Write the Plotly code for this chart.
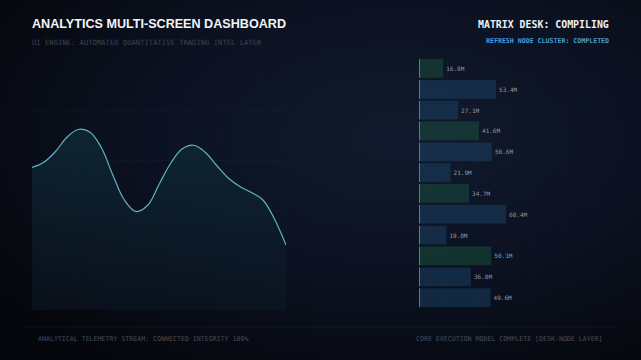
import plotly.graph_objects as go
import base64

W, H = 641, 360

# ---- data ----
trend_x = list(range(23))
trend_y = [57.0, 59.0, 63.2, 69.0, 72.2, 71.2, 65.0, 54.0, 44.0, 39.4, 41.8, 50.2,
           58.6, 64.4, 65.9, 63.1, 57.8, 52.8, 49.4, 47.0, 44.0, 36.4, 26.0]

bar_cats = ["N01", "N02", "N03", "N04", "N05", "N06", "N07", "N08", "N09", "N10", "N11", "N12"]
bar_vals = [16.8, 53.4, 27.1, 41.6, 50.6, 21.9, 34.7, 60.4, 19.0, 50.1, 36.0, 49.6]
bar_labels = ["16.8M", "53.4M", "27.1M", "41.6M", "50.6M", "21.9M", "34.7M", "60.4M", "19.0M", "50.1M", "36.0M", "49.6M"]
bar_kind = ["g", "b", "b", "g", "b", "b", "g", "b", "b", "g", "b", "b"]

def px_x(p):
    return p / W

def px_y(p):
    return 1 - p / H

fig = go.Figure()

svg = f'''<svg xmlns="http://www.w3.org/2000/svg" width="{W}" height="{H}">
<defs><radialGradient id="g" cx="0.62" cy="0.38" r="0.75">
<stop offset="0" stop-color="#111a2d"/><stop offset="0.55" stop-color="#0b1120"/><stop offset="1" stop-color="#05070c"/>
</radialGradient></defs><rect width="{W}" height="{H}" fill="url(#g)"/></svg>'''
src = "data:image/svg+xml;base64," + base64.b64encode(svg.encode()).decode()
fig.add_layout_image(dict(source=src, xref="paper", yref="paper", x=0, y=1, sizex=1, sizey=1,
                          sizing="stretch", layer="below"))

fig.add_trace(go.Scatter(
    x=trend_x, y=trend_y, mode="lines", line=dict(color="#62b2c2", width=1.2, shape="spline", smoothing=1.1),
    fill="tozeroy",
    fillgradient=dict(type="vertical", colorscale=[[0, "rgba(12,24,38,0.5)"], [1, "rgba(14,40,52,0.9)"]]),
    xaxis="x", yaxis="y", hoverinfo="skip", showlegend=False))

bar_colors = ["rgba(28,96,70,0.42)" if k == "g" else "rgba(28,72,110,0.46)" for k in bar_kind]
edge_colors = ["#3a9474" if k == "g" else "#3a86b4" for k in bar_kind]

fig.add_trace(go.Bar(
    y=bar_cats, x=bar_vals, orientation="h", marker=dict(color=bar_colors, line=dict(width=0)),
    text=bar_labels, textposition="outside", cliponaxis=False,
    textfont=dict(family="DejaVu Sans Mono", size=6, color="#8f9aa8"),
    xaxis="x2", yaxis="y2", showlegend=False, hoverinfo="skip"))
fig.add_trace(go.Bar(
    y=bar_cats, x=[0.6] * len(bar_cats), orientation="h", marker=dict(color=edge_colors, line=dict(width=0)),
    xaxis="x2", yaxis="y2", showlegend=False, hoverinfo="skip"))

grid = "rgba(120,140,170,0.045)"
fig.update_layout(
    width=W, height=H, margin=dict(l=0, r=0, t=0, b=0),
    paper_bgcolor="#080b13", plot_bgcolor="rgba(0,0,0,0)",
    barmode="overlay", bargap=0.1,
    xaxis=dict(domain=[px_x(32), px_x(286)], range=[0, 22], showticklabels=False, zeroline=False,
               showgrid=True, gridcolor="rgba(120,140,170,0.025)", dtick=4),
    yaxis=dict(domain=[px_y(310), px_y(60)], range=[0, 100], showticklabels=False, zeroline=False,
               showgrid=True, gridcolor=grid, dtick=20),
    xaxis2=dict(domain=[px_x(419), px_x(621)], range=[0, 140], showticklabels=False, zeroline=False,
                showgrid=True, gridcolor="rgba(120,140,170,0.025)", dtick=20, anchor="y2"),
    yaxis2=dict(domain=[px_y(308), px_y(58)], autorange="reversed", showticklabels=False, showgrid=False,
                zeroline=False, anchor="x2"),
    font=dict(family="DejaVu Sans Mono"),
)

ann = [
    dict(text="<b>ANALYTICS MULTI-SCREEN DASHBOARD</b>", x=px_x(30), y=px_y(24), xanchor="left", yanchor="middle",
         font=dict(family="Liberation Sans", size=12.6, color="#f2f4f7")),
    dict(text="UI ENGINE: AUTOMATED QUANTITATIVE TRADING INTEL LAYER", x=px_x(30), y=px_y(42), xanchor="left",
         yanchor="middle", font=dict(family="DejaVu Sans Mono", size=7.2, color="#3c4352")),
    dict(text="<b>MATRIX DESK: COMPILING</b>", x=px_x(611), y=px_y(25), xanchor="right", yanchor="middle",
         font=dict(family="DejaVu Sans Mono", size=9.9, color="#eef1f5")),
    dict(text="<b>REFRESH NODE CLUSTER: COMPLETED</b>", x=px_x(611), y=px_y(41), xanchor="right", yanchor="middle",
         font=dict(family="DejaVu Sans Mono", size=6.6, color="#4e9fd6")),
    dict(text="ANALYTICAL TELEMETRY STREAM: CONNECTED INTEGRITY 100%", x=px_x(36), y=px_y(339), xanchor="left",
         yanchor="middle", font=dict(family="DejaVu Sans Mono", size=6.6, color="#474d5c")),
    dict(text="CORE EXECUTION MODEL COMPLETE [DESK-NODE LAYER]", x=px_x(605), y=px_y(339), xanchor="right",
         yanchor="middle", font=dict(family="DejaVu Sans Mono", size=6.6, color="#474d5c")),
]
for a in ann:
    a.update(xref="paper", yref="paper", showarrow=False)
fig.update_layout(annotations=ann)

fig.add_shape(type="line", xref="paper", yref="paper", x0=px_x(26), x1=px_x(616), y0=px_y(327), y1=px_y(327),
              line=dict(color="rgba(110,130,160,0.1)", width=1))

fig.write_html("out.html")
